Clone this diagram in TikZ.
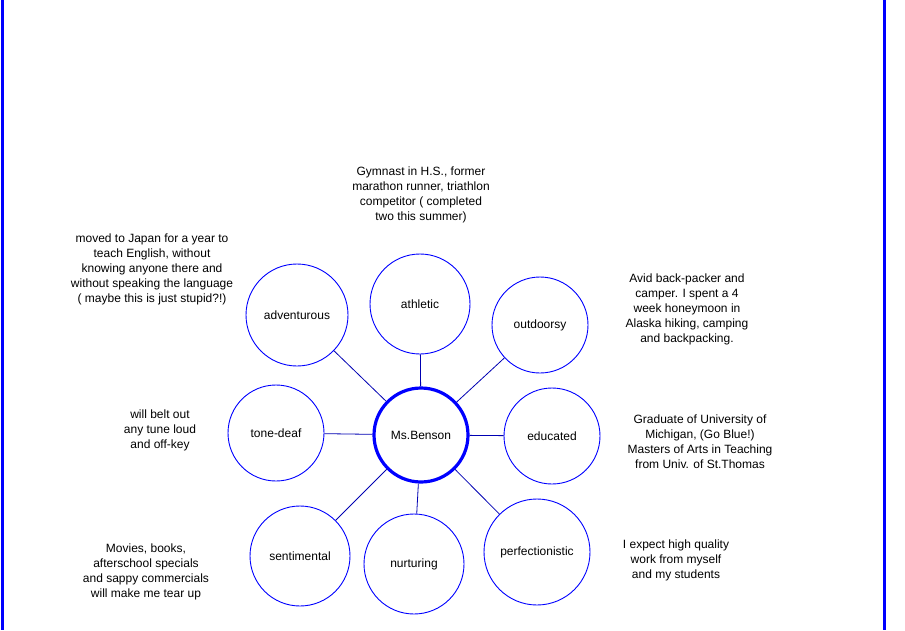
\documentclass[tikz,border=0pt]{standalone}
\usepackage{fontspec}
\setmainfont{Liberation Sans}
\begin{document}
\begin{tikzpicture}[x=1pt,y=-1pt,
  trait/.style={circle,draw=blue,line width=0.9pt,inner sep=0pt,font=\fontsize{12}{15}\selectfont},
  note/.style={align=center,font=\fontsize{12}{15}\selectfont,inner sep=0pt},
  link/.style={draw=blue!70!black,line width=0.8pt}]
\useasboundingbox (0,0) rectangle (905,630);
\draw[blue,line width=3pt] (2,0) -- (2,630);
\draw[blue,line width=3pt] (884,0) -- (884,630);
\node[trait,minimum size=94pt,line width=3.2pt] (c) at (421,435) {Ms.Benson};
\node[trait,minimum size=100pt] (ath) at (420,304) {athletic};
\node[trait,minimum size=102pt] (adv) at (297,315) {adventurous};
\node[trait,minimum size=96pt] (out) at (540,325) {outdoorsy};
\node[trait,minimum size=96pt] (edu) at (552,436) {educated};
\node[trait,minimum size=106pt] (per) at (537,552) {perfectionistic};
\node[trait,minimum size=100pt] (nur) at (414,564) {nurturing};
\node[trait,minimum size=100pt] (sen) at (300,556) {sentimental};
\node[trait,minimum size=96pt] (ton) at (276,433) {tone-deaf};
\foreach \n in {ath,adv,out,edu,per,nur,sen,ton} \draw[link] (c) -- (\n);
\node[note] (n1) at (421,195) {Gymnast in H.S., former\\marathon runner, triathlon\\competitor ( completed\\two this summer)};
\node[note] (n2) at (152,269) {moved to Japan for a year to\\teach English, without\\knowing anyone there and\\without speaking the language\\( maybe this is just stupid?!)};
\node[note] (n3) at (687,309) {Avid back-packer and\\camper. I spent a 4\\week honeymoon in\\Alaska hiking, camping\\and backpacking.};
\node[note] (n4) at (160,430) {will belt out\\any tune loud\\and off-key};
\node[note] (n5) at (700,442) {Graduate of University of\\Michigan, (Go Blue!)\\Masters of Arts in Teaching\\from Univ. of St.Thomas};
\node[note] (n6) at (146,572) {Movies, books,\\afterschool specials\\and sappy commercials\\will make me tear up};
\node[note] (n7) at (676,560) {I expect high quality\\work from myself\\and my students};
\end{tikzpicture}
\end{document}
